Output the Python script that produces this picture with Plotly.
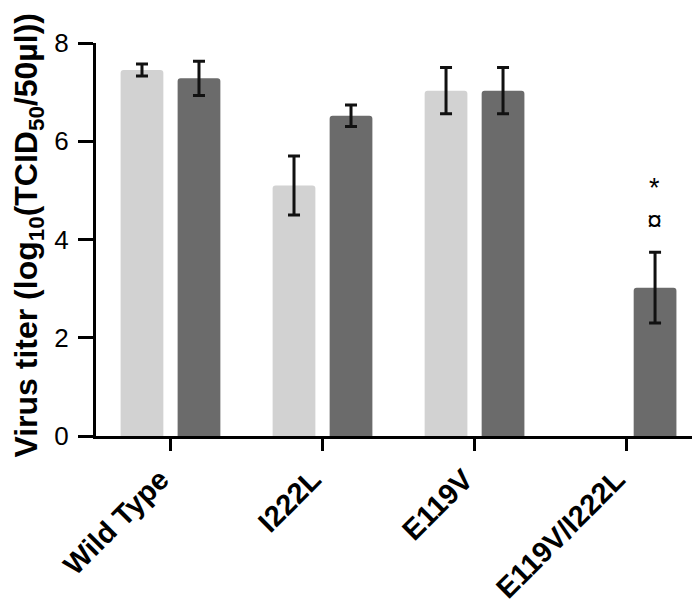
import plotly.graph_objects as go

categories = ["Wild Type", "I222L", "E119V", "E119V/I222L"]
series1_values = [7.45, 5.10, 7.03, None]
series1_errors = [0.12, 0.60, 0.47, 0]
series2_values = [7.28, 6.52, 7.03, 3.02]
series2_errors = [0.35, 0.22, 0.47, 0.72]
y_ticks = [0, 2, 4, 6, 8]
annot_labels = ["¤", "*"]
annot_y = [4.38, 5.05]
y_title = "<b>Virus titer (log<sub>10</sub>(TCID<sub>50</sub>/50µl))</b>"

FONT = "Liberation Sans"

fig = go.Figure()
fig.add_trace(go.Bar(
    x=categories, y=series1_values, name="s1",
    marker=dict(color="#d2d2d2", line=dict(width=0), cornerradius=3),
    error_y=dict(type="data", array=series1_errors, color="#111111", thickness=3, width=6),
))
fig.add_trace(go.Bar(
    x=categories, y=series2_values, name="s2",
    marker=dict(color="#6b6b6b", line=dict(width=0), cornerradius=3),
    error_y=dict(type="data", array=series2_errors, color="#111111", thickness=3, width=6),
))

for lab, yy in zip(annot_labels, annot_y):
    fig.add_annotation(x=3, y=yy, xref="x", yref="y", text=lab, showarrow=False,
                       xshift=28, font=dict(family=FONT, size=27, color="black"))

# y-axis title as annotation (reference title is long and slightly off-centre)
fig.add_annotation(x=0, y=0.51, xref="paper", yref="paper", text=y_title,
                   textangle=-90, showarrow=False, xanchor="center", yanchor="middle",
                   xshift=-67, font=dict(family=FONT, size=32, color="black"))

fig.update_layout(
    width=700, height=606,
    margin=dict(l=88, r=10, t=35, b=168),
    paper_bgcolor="white", plot_bgcolor="white",
    barmode="group", bargap=0.25, bargroupgap=0.25,
    showlegend=False,
    font=dict(family=FONT, color="black"),
)
fig.update_xaxes(
    range=[-0.49, 3.47], showline=True, linecolor="black", linewidth=3,
    ticks="outside", ticklen=12, tickwidth=3, tickcolor="black",
    tickangle=-45, tickfont=dict(family=FONT, size=29, weight="bold", color="black"),
    ticklabelshift=-10,
    showgrid=False, zeroline=False,
)
fig.update_yaxes(
    range=[0, 8], tickvals=y_ticks, showline=True, linecolor="black", linewidth=3,
    ticks="outside", ticklen=15, tickwidth=3, tickcolor="black",
    tickfont=dict(family=FONT, size=26, color="black"),
    ticklabelstandoff=4,
    showgrid=False, zeroline=False,
)

fig.write_html("out.html")
